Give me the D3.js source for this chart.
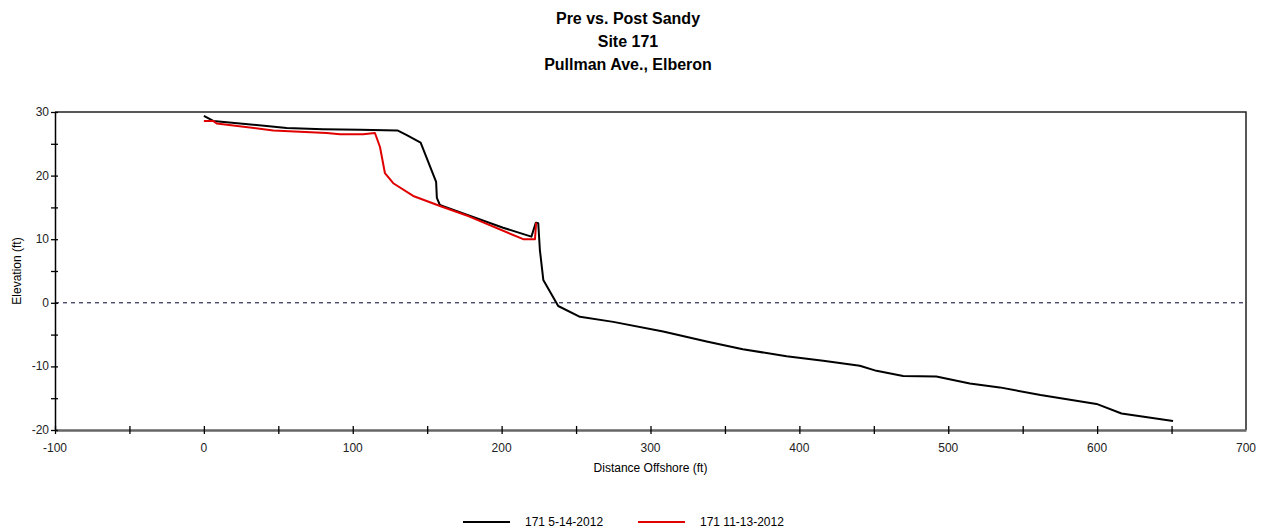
<!DOCTYPE html>
<html>
<head>
<meta charset="utf-8">
<script src="https://cdn.jsdelivr.net/npm/d3@7"></script>
<style>
  body { margin: 0; background: #fff; }
  svg text { font-family: "Liberation Sans", Arial, sans-serif; }
</style>
</head>
<body>
<div id="chart"></div>
<script>
const titleLines = ["Pre vs. Post Sandy", "Site 171", "Pullman Ave., Elberon"];
const seriesNames = ["171 5-14-2012", "171 11-13-2012"];
const seriesColors = ["#000000", "#e00000"];

// 5-14-2012 profile: [distance, elevation]
const preSandy = [
  [0, 29.4], [6.3, 28.6], [55.6, 27.5], [80, 27.3], [105, 27.2], [130, 27.1],
  [136, 26.4], [145.6, 25.2], [156, 19], [156.5, 16.5], [158.5, 15.4], [163, 15],
  [201, 11.8], [220, 10.4], [223, 12.6], [224.6, 12.5], [225.7, 8.3], [228, 3.6],
  [238, -0.5], [252.6, -2.2], [275, -3.0], [308.5, -4.5], [337.7, -6.1], [362, -7.3],
  [391.4, -8.4], [416, -9.1], [440.6, -9.9], [451.8, -10.7], [469.7, -11.5], [492, -11.6],
  [514.5, -12.7], [534.6, -13.3], [562, -14.5], [599.6, -15.9], [616.4, -17.4], [651, -18.6]
];

// 11-13-2012 profile
const postSandy = [
  [0, 28.6], [6.3, 28.6], [8.6, 28.2], [46.6, 27.1], [82.5, 26.7], [91.4, 26.5],
  [107, 26.5], [114.9, 26.7], [118.3, 24.5], [121.6, 20.4], [127.2, 18.8], [140.6, 16.8],
  [160, 15.1], [178, 13.6], [214.5, 10.0], [222.4, 10.0], [223.2, 12.6]
];

const xTicks = [-100, 0, 100, 200, 300, 400, 500, 600, 700];
const yTicks = [-20, -10, 0, 10, 20, 30];

const width = 1263, height = 531;
const margin = { left: 55, right: 17, top: 112, bottom: 101 };

const svg = d3.select("#chart").append("svg")
  .attr("width", width)
  .attr("height", height);

const x = d3.scaleLinear().domain([-100, 700]).range([margin.left, width - margin.right]);
const y = d3.scaleLinear().domain([-20, 30]).range([height - margin.bottom, margin.top]);

// Title
svg.append("g").selectAll("text")
  .data(titleLines)
  .join("text")
  .attr("x", 628)
  .attr("y", (d, i) => 24 + i * 23)
  .attr("text-anchor", "middle")
  .attr("font-size", 16)
  .attr("font-weight", "bold")
  .text(d => d);

// Frame (top and right)
svg.append("path")
  .attr("d", `M${x(-100)},${y(30)}H${x(700)}V${y(-20)}`)
  .attr("fill", "none")
  .attr("stroke", "#222")
  .attr("stroke-width", 1.5);

// Zero reference line
svg.append("line")
  .attr("x1", x(-100)).attr("x2", x(700))
  .attr("y1", y(0)).attr("y2", y(0))
  .attr("stroke", "#000030")
  .attr("stroke-dasharray", "4,4");

// X axis
const xAxis = svg.append("g")
  .attr("transform", `translate(0,${y(-20)})`)
  .call(d3.axisBottom(x).tickValues(d3.range(-100, 701, 50)).tickSize(0).tickFormat(""));
xAxis.select(".domain").attr("stroke", "#666").attr("stroke-width", 2.5);
xAxis.selectAll(".tick line").remove();
xAxis.selectAll(".tick").append("line")
  .attr("y1", -4).attr("y2", 4).attr("stroke", "#000").attr("stroke-width", 1.3);
xAxis.selectAll(".tick").filter(d => d === 700).remove();
svg.append("g").selectAll("text")
  .data(xTicks)
  .join("text")
  .attr("x", d => x(d))
  .attr("y", y(-20) + 22)
  .attr("text-anchor", "middle")
  .attr("font-size", 12)
  .attr("fill", "#222")
  .text(d => d);

// Y axis
const yAxis = svg.append("g")
  .attr("transform", `translate(${x(-100)},0)`)
  .call(d3.axisLeft(y).tickValues(d3.range(-20, 31, 5)).tickSize(0).tickFormat(""));
yAxis.select(".domain").attr("stroke", "#000").attr("stroke-width", 1.5);
yAxis.selectAll(".tick").append("line")
  .attr("x1", -4).attr("x2", 3).attr("stroke", "#000").attr("stroke-width", 1.3);
svg.append("g").selectAll("text")
  .data(yTicks)
  .join("text")
  .attr("x", x(-100) - 6)
  .attr("y", d => y(d) + 4)
  .attr("text-anchor", "end")
  .attr("font-size", 12)
  .attr("fill", "#222")
  .text(d => d);

// Axis titles
svg.append("text")
  .attr("x", x(300))
  .attr("y", 472)
  .attr("text-anchor", "middle")
  .attr("font-size", 12)
  .text("Distance Offshore (ft)");
svg.append("text")
  .attr("transform", `translate(21,${y(5)}) rotate(-90)`)
  .attr("text-anchor", "middle")
  .attr("font-size", 12)
  .text("Elevation (ft)");

// Profiles
const line = d3.line().x(d => x(d[0])).y(d => y(d[1]));
[preSandy, postSandy].forEach((data, i) => {
  svg.append("path")
    .datum(data)
    .attr("d", line)
    .attr("fill", "none")
    .attr("stroke", seriesColors[i])
    .attr("stroke-width", 2)
    .attr("stroke-linejoin", "round");
});

// Legend
const legendX = [463, 638];
const legend = svg.append("g").selectAll("g")
  .data(seriesNames)
  .join("g")
  .attr("transform", (d, i) => `translate(${legendX[i]},522)`);
legend.append("line")
  .attr("x1", 0).attr("x2", 47)
  .attr("stroke", (d, i) => seriesColors[i])
  .attr("stroke-width", 2);
legend.append("text")
  .attr("x", 62)
  .attr("y", 4)
  .attr("font-size", 12)
  .text(d => d);
</script>
</body>
</html>
